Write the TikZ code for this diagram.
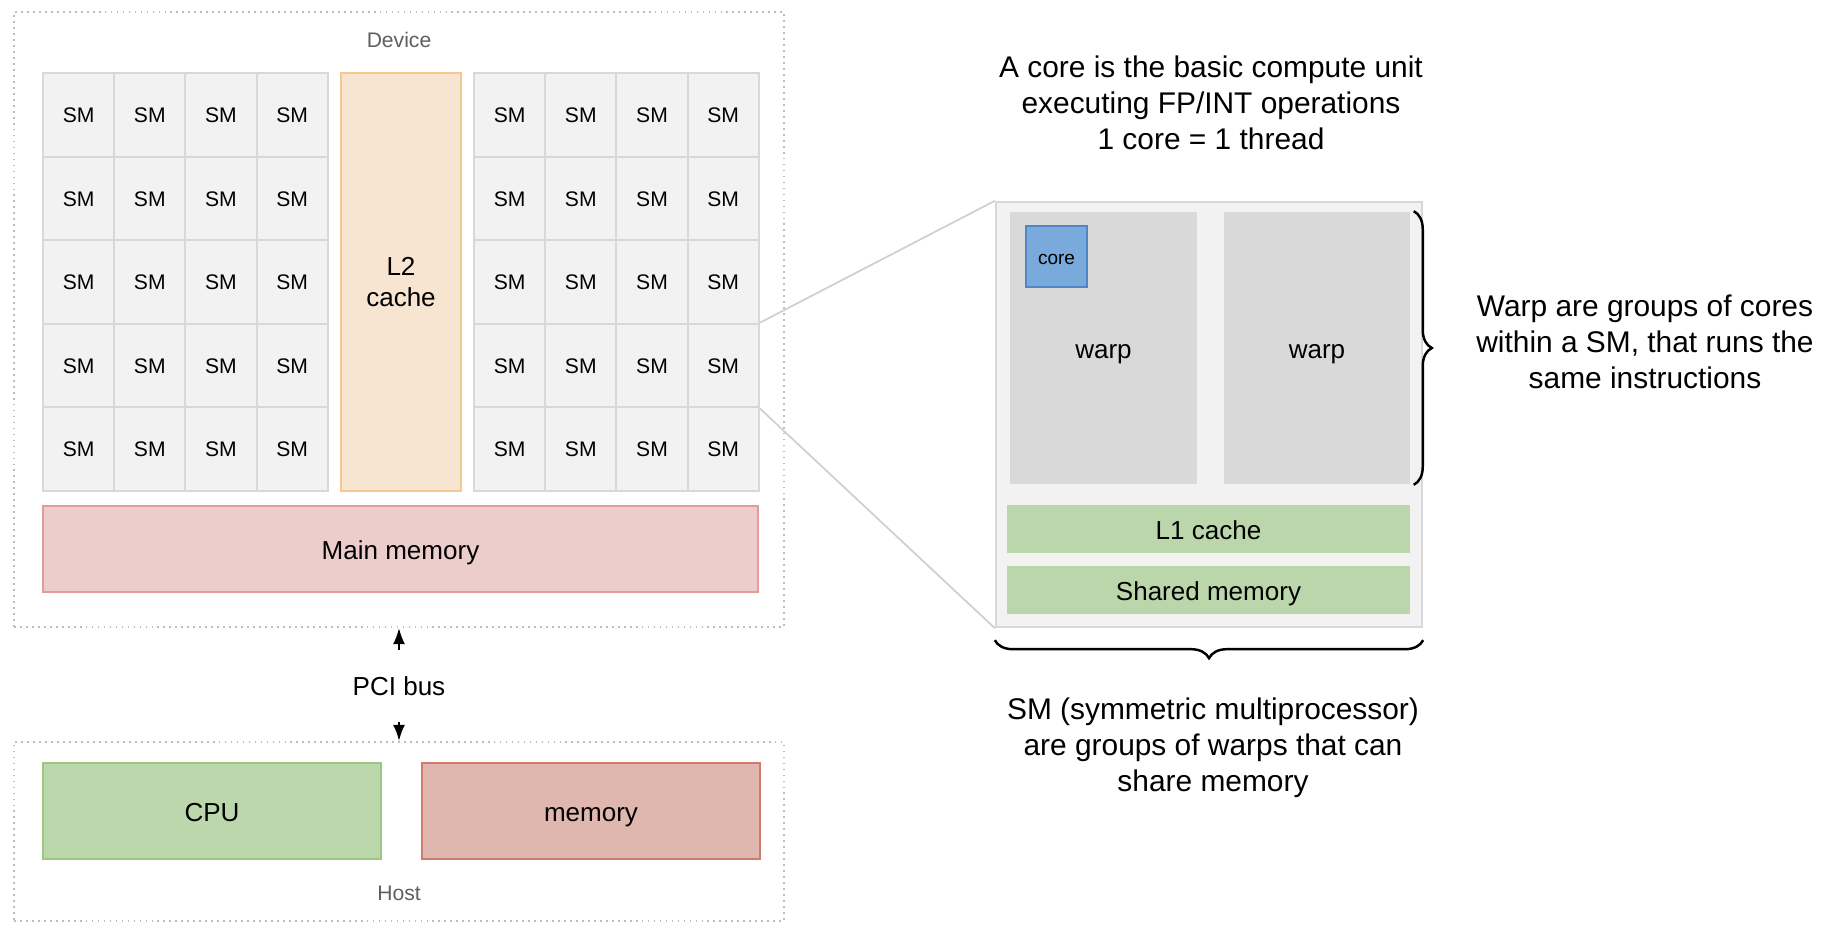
\documentclass[tikz,border=0pt]{standalone}
\usepackage{fontspec}
\setmainfont{Liberation Sans}
\usetikzlibrary{positioning,fit,arrows.meta,decorations.pathreplacing}

\definecolor{smfill}{HTML}{F2F2F2}
\definecolor{smline}{HTML}{D8D8D8}
\definecolor{ltwofill}{HTML}{F8E5D1}
\definecolor{ltwoline}{HTML}{F5C892}
\definecolor{mainfill}{HTML}{EDCDCC}
\definecolor{mainline}{HTML}{E59C99}
\definecolor{cpufill}{HTML}{BCD7AB}
\definecolor{cpuline}{HTML}{9AC784}
\definecolor{hostmemfill}{HTML}{DFB7AF}
\definecolor{hostmemline}{HTML}{D07C6C}
\definecolor{warpfill}{HTML}{D9D9D9}
\definecolor{corefill}{HTML}{7AAADC}
\definecolor{coreline}{HTML}{4E86C6}
\definecolor{cachefill}{HTML}{BCD6AB}
\definecolor{frameline}{HTML}{BDBDBD}
\definecolor{labelgray}{HTML}{5F5F5F}
\definecolor{zoomgray}{HTML}{D0D0D0}

\newcommand{\bigtext}{\fontsize{8.5}{10.2}\selectfont}
\newcommand{\midtext}{\fontsize{7.4}{8.9}\selectfont}
\newcommand{\smalltext}{\fontsize{6}{7.2}\selectfont}
\newcommand{\coretext}{\fontsize{5.4}{6.5}\selectfont}

\tikzset{
 oneline/.style={text height=0.72em, text depth=0.28em},
 midline/.style={font=\midtext, text height=0.8em, text depth=0.2em},
 smcell/.style={draw=smline, fill=smfill, line width=0.6pt, minimum width=0.712cm, minimum height=0.836cm, inner sep=0pt, font=\smalltext, oneline},
 framebox/.style={draw=frameline, line width=0.6pt, dash pattern=on 0.5pt off 1.2pt, inner sep=0pt},
 framelabel/.style={text=labelgray, font=\smalltext},
 ltwo/.style={draw=ltwoline, fill=ltwofill, line width=0.6pt, inner sep=0pt, align=center, font=\midtext},
 mainmem/.style={draw=mainline, fill=mainfill, line width=0.6pt, inner sep=0pt, midline},
 cpubox/.style={draw=cpuline, fill=cpufill, line width=0.6pt, inner sep=0pt, midline},
 hostmem/.style={draw=hostmemline, fill=hostmemfill, line width=0.6pt, inner sep=0pt, midline},
 smbig/.style={draw=smline, fill=smfill, line width=0.6pt, inner sep=0pt},
 warpbox/.style={fill=warpfill, inner sep=0pt, midline},
 corebox/.style={draw=coreline, fill=corefill, line width=0.6pt, inner sep=0pt, font=\coretext, oneline},
 cachebox/.style={fill=cachefill, inner sep=0pt, midline},
 notetext/.style={align=center, font=\bigtext},
 zoomline/.style={draw=zoomgray, line width=0.5pt},
 pcitip/.style={-{Latex[length=0.16cm,width=0.12cm]}, line width=0.6pt, shorten <=0.14cm},
 bracepath/.style={decorate, decoration={brace, amplitude=0.18cm}, line width=0.7pt}
}

\begin{document}
\begin{tikzpicture}[x=0.01cm,y=-0.01cm]
 \path[use as bounding box, fill=white] (0,0) rectangle (1838,934);

 %Device
 \node[framebox, fit={(14,12) (784,627)}] (device) {};
 \node[framelabel] (devicename) at (399,40) {Device};
 \foreach \r in {0,...,4}
  \foreach \c in {0,...,3}{
   \node[smcell] (L-\r-\c) at ({78.6+71.2*\c},{114.8+83.6*\r}) {SM};
   \node[smcell] (R-\r-\c) at ({509.6+71.2*\c},{114.8+83.6*\r}) {SM};
  }
 \node[ltwo, minimum width=1.2cm, minimum height=4.18cm] (ltwo) at (401,282) {L2\\cache};
 \node[mainmem, minimum width=7.15cm, minimum height=0.86cm] (mainmem) at (400.5,549) {Main memory};

 %PCI bus
 \node[font=\midtext] (pci) at (399,686) {PCI bus};

 %Host
 \node[framebox, fit={(14,742) (784,921)}] (host) {};
 \node[framelabel] (hostname) at (399,893) {Host};
 \node[cpubox, minimum width=3.38cm, minimum height=0.96cm] (cpu) at (212,811) {CPU};
 \node[hostmem, minimum width=3.38cm, minimum height=0.96cm] (hostmem) at (591,811) {memory};

 \draw[pcitip] (pci) -- (device.south);
 \draw[pcitip] (pci) -- (host.north);

 %Zoomed SM
 \node[smbig, minimum width=4.26cm, minimum height=4.25cm] (sm) at (1209,414.5) {};
 \node[warpbox, minimum width=1.87cm, minimum height=2.72cm] (warpA) at (1103.5,348) {warp};
 \node[warpbox, minimum width=1.86cm, minimum height=2.72cm] (warpB) at (1317,348) {warp};
 \node[corebox, minimum width=0.61cm, minimum height=0.61cm] (core) at (1056.5,256.5) {core};
 \node[cachebox, minimum width=4.03cm, minimum height=0.48cm] (lone) at (1208.5,529) {L1 cache};
 \node[cachebox, minimum width=4.03cm, minimum height=0.48cm] (shmem) at (1208.5,590) {Shared memory};

 \draw[zoomline] (R-3-3.north east) -- (sm.north west);
 \draw[zoomline] (R-3-3.south east) -- (sm.south west);

 %Braces
 \draw[bracepath] ([xshift=0.03cm]warpB.north east) -- ([xshift=0.03cm]warpB.south east);
 \draw[bracepath] ([yshift=-0.12cm]sm.south east) -- ([yshift=-0.12cm]sm.south west);

 %Notes
 \node[notetext] (coretxt) at (1211,103) {A core is the basic compute unit\\executing FP/INT operations\\1 core = 1 thread};
 \node[notetext] (warptxt) at (1645,342) {Warp are groups of cores\\within a SM, that runs the\\same instructions};
 \node[notetext] (smtxt) at (1213,748) {SM (symmetric multiprocessor)\\are groups of warps that can\\share memory};
\end{tikzpicture}
\end{document}
